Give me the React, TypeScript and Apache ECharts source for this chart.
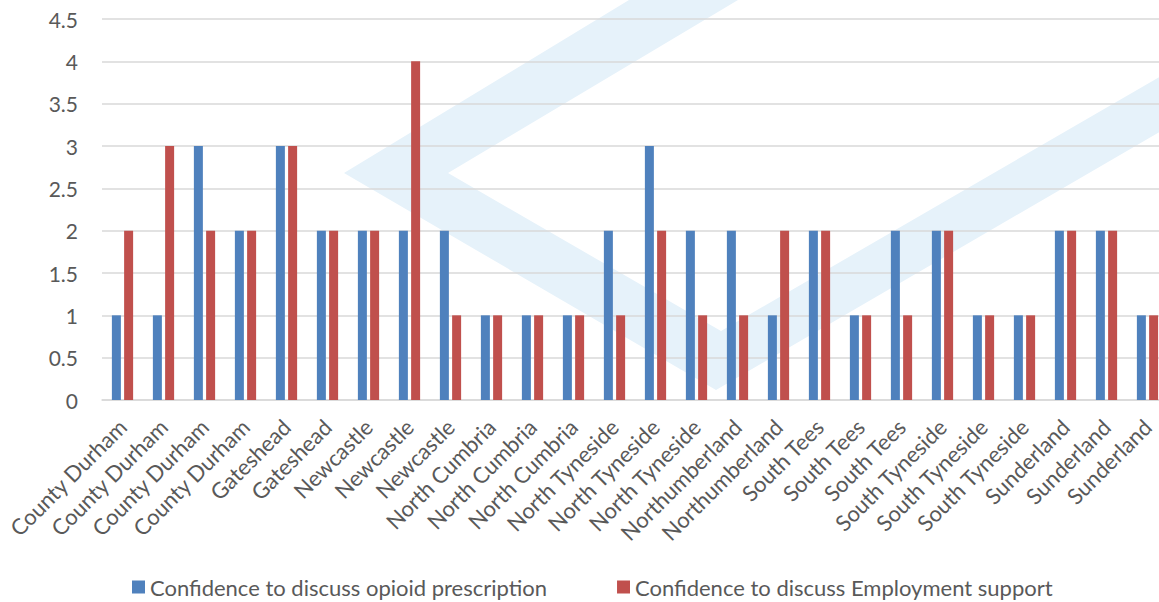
import React, { useEffect, useRef } from "react";
import * as echarts from "echarts";

const regions = [
  "County Durham", "County Durham", "County Durham", "County Durham",
  "Gateshead", "Gateshead",
  "Newcastle", "Newcastle", "Newcastle",
  "North Cumbria", "North Cumbria", "North Cumbria",
  "North Tyneside", "North Tyneside", "North Tyneside",
  "Northumberland", "Northumberland",
  "South Tees", "South Tees", "South Tees",
  "South Tyneside", "South Tyneside", "South Tyneside",
  "Sunderland", "Sunderland", "Sunderland",
];

const opioidConfidence = [1, 1, 3, 2, 3, 2, 2, 2, 2, 1, 1, 1, 2, 3, 2, 2, 1, 2, 1, 2, 2, 1, 1, 2, 2, 1];
const employmentConfidence = [2, 3, 2, 2, 3, 2, 2, 4, 1, 1, 1, 1, 1, 2, 1, 1, 2, 2, 1, 1, 2, 1, 1, 2, 2, 1];

const seriesNames = [
  "Confidence to discuss opioid prescription",
  "Confidence to discuss Employment support",
];

const FONT = "Lato, 'Open Sans', sans-serif";
const TEXT = "#595959";

export default function App() {
  const ref = useRef<HTMLDivElement>(null);

  useEffect(() => {
    if (!ref.current) return;
    const chart = echarts.init(ref.current, undefined, { renderer: "svg" });
    chart.setOption({
      animation: false,
      backgroundColor: "#ffffff",
      textStyle: { fontFamily: FONT },
      graphic: [
        {
          type: "polygon",
          z: -10,
          silent: true,
          shape: {
            points: [
              [629, 0], [344, 173], [716, 390], [1175, 123],
              [1175, 68], [721, 331], [448, 173], [738, 0],
            ],
          },
          style: { fill: "#e6f2fa" },
        },
      ],
      legend: {
        left: 127,
        top: 571,
        itemWidth: 13,
        itemHeight: 13,
        itemGap: 70,
        icon: "rect",
        textStyle: { fontFamily: FONT, fontSize: 22, color: TEXT },
        data: seriesNames,
      },
      grid: { left: 102, top: 19, width: 1066, height: 381, containLabel: false },
      xAxis: {
        type: "category",
        data: regions,
        axisLine: { lineStyle: { color: "#d9d9d9", width: 1.5 } },
        axisTick: { show: false },
        axisLabel: {
          interval: 0,
          rotate: 45,
          margin: 23,
          fontFamily: FONT,
          fontSize: 22,
          color: TEXT,
        },
      },
      yAxis: {
        type: "value",
        min: 0,
        max: 4.5,
        interval: 0.5,
        axisLine: { show: false },
        axisTick: { show: false },
        splitLine: { lineStyle: { color: "#d9d9d9", width: 1.5 } },
        axisLabel: { margin: 24, fontFamily: FONT, fontSize: 21, color: TEXT },
      },
      series: [
        {
          name: seriesNames[0],
          type: "bar",
          data: opioidConfidence,
          barWidth: 9,
          barGap: "36%",
          itemStyle: { color: "#4f81bd" },
        },
        {
          name: seriesNames[1],
          type: "bar",
          data: employmentConfidence,
          barWidth: 9,
          barGap: "36%",
          itemStyle: { color: "#c0504d" },
        },
      ],
    });
    return () => chart.dispose();
  }, []);

  return (
    <div
      ref={ref}
      style={{ position: "fixed", left: 0, top: 0, width: 1180, height: 602 }}
    />
  );
}
